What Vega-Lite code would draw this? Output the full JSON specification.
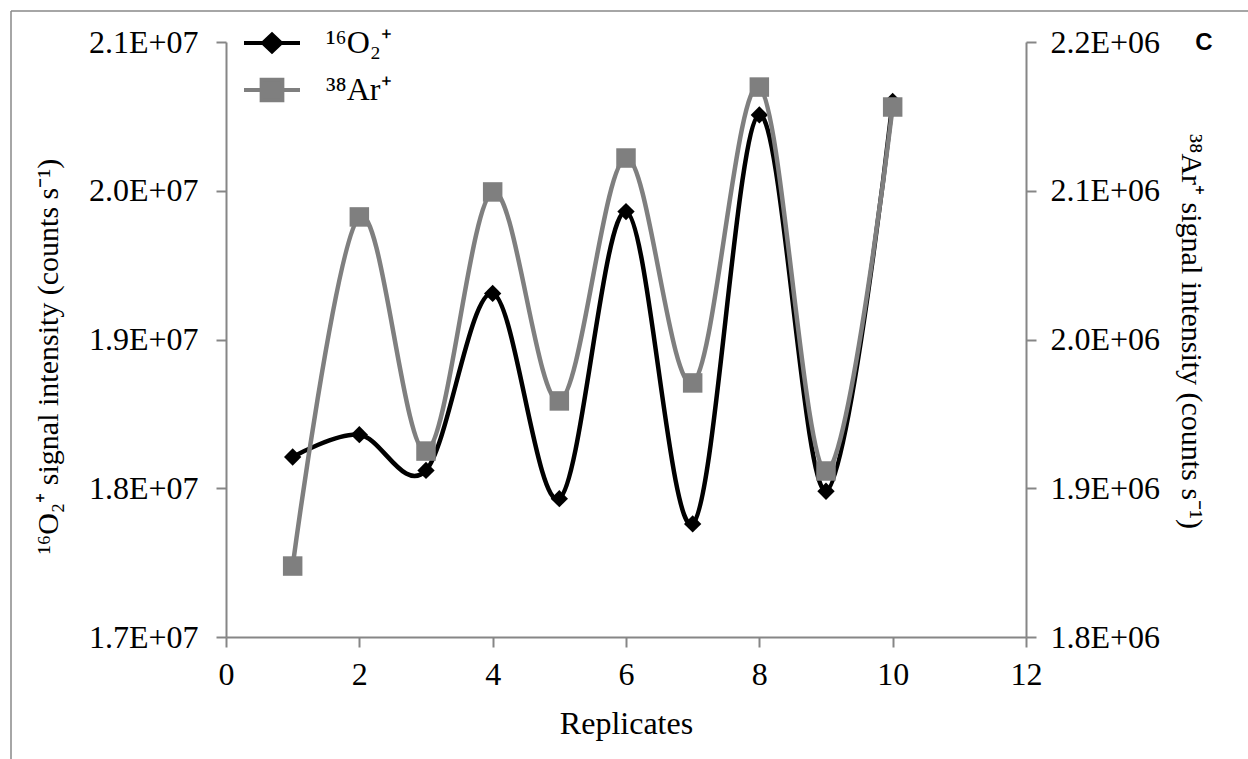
{
  "$schema": "https://vega.github.io/schema/vega-lite/v6.json",
  "width": 800,
  "height": 595,
  "autosize": {"type": "none"},
  "padding": {"left": 226, "top": 42, "right": 222, "bottom": 122},
  "background": "white",
  "config": {
    "view": {"stroke": null},
    "font": "Liberation Serif",
    "axis": {
      "grid": false,
      "domainColor": "#868686",
      "domainWidth": 2,
      "tickColor": "#868686",
      "tickWidth": 2,
      "tickSize": 10,
      "labelFont": "Liberation Serif",
      "labelFontSize": 32,
      "labelColor": "#000000",
      "labelFlush": false,
      "labelOverlap": false,
      "labelBound": false,
      "titleFont": "Liberation Serif",
      "titleFontSize": 32,
      "titleFontWeight": "normal",
      "titleColor": "#000000"
    }
  },
  "data": {
    "values": [
      {"rep": 1, "o2": 18210000, "ar": 1847700},
      {"rep": 2, "o2": 18360000, "ar": 2082400},
      {"rep": 3, "o2": 18120000, "ar": 1925000},
      {"rep": 4, "o2": 19310000, "ar": 2099200},
      {"rep": 5, "o2": 17930000, "ar": 1958700},
      {"rep": 6, "o2": 19860000, "ar": 2122000},
      {"rep": 7, "o2": 17760000, "ar": 1970800},
      {"rep": 8, "o2": 20510000, "ar": 2169700},
      {"rep": 9, "o2": 17980000, "ar": 1911600},
      {"rep": 10, "o2": 20600000, "ar": 2156300}
    ]
  },
  "layer": [
    {
      "layer": [
        {
          "mark": {"type": "line", "interpolate": "cardinal", "strokeWidth": 4.5,
                   "point": {"shape": "diamond", "size": 300, "filled": true}},
          "encoding": {
            "x": {
              "field": "rep",
              "type": "quantitative",
              "scale": {"domain": [0, 12], "nice": false, "zero": false},
              "axis": {
                "values": [0, 2, 4, 6, 8, 10, 12],
                "format": "d",
                "labelPadding": 12,
                "title": "Replicates",
                "titlePadding": 18
              }
            },
            "y": {
              "field": "o2",
              "type": "quantitative",
              "scale": {"domain": [17000000, 21000000], "nice": false, "zero": false},
              "axis": {
                "values": [17000000, 18000000, 19000000, 20000000, 21000000],
                "labelExpr": "format(datum.value/1e7,'.1f') + 'E+07'",
                "labelPadding": 18,
                "title": "¹⁶O₂⁺ signal intensity (counts s⁻¹)",
                "titleFontSize": 30,
                "titleY": 314,
                "titlePadding": 25
              }
            },
            "color": {
              "datum": "¹⁶O₂⁺",
              "scale": {"domain": ["¹⁶O₂⁺", "³⁸Ar⁺"], "range": ["#000000", "#7f7f7f"]},
              "legend": {
                "title": null,
                "orient": "none",
                "legendX": 16,
                "legendY": -29,
                "padding": 0,
                "symbolSize": 3136,
                "symbolStrokeWidth": 4,
                "labelFont": "Liberation Serif",
                "labelFontSize": 32,
                "labelColor": "#000000",
                "labelOffset": 24,
                "rowPadding": -7,
                "encode": {
                  "symbols": {
                    "update": {
                      "shape": {"signal": "datum.index === 0 ? 'M-1,0H1M-0.32,0L0,-0.3L0.32,0L0,0.3Z' : 'M-1,0H1M-0.37,-0.37H0.37V0.37H-0.37Z'"},
                      "fill": {"signal": "datum.index === 0 ? '#000000' : '#7f7f7f'"},
                      "stroke": {"signal": "datum.index === 0 ? '#000000' : '#7f7f7f'"},
                      "strokeWidth": {"value": 4},
                      "opacity": {"value": 1},
                      "fillOpacity": {"value": 1},
                      "strokeOpacity": {"value": 1}
                    }
                  }
                }
              }
            }
          }
        },
        {
          "data": {"values": [{"frame": "left"}]},
          "mark": {"type": "rule", "color": "#898989", "strokeWidth": 1.5, "clip": false},
          "encoding": {
            "x": {"datum": -3.225, "type": "quantitative"},
            "y": {"datum": 21208000, "type": "quantitative"},
            "y2": {"datum": 16000000}
          }
        },
        {
          "data": {"values": [{"frame": "top"}]},
          "mark": {"type": "rule", "color": "#898989", "strokeWidth": 1.5, "clip": false},
          "encoding": {
            "x": {"datum": -3.225, "type": "quantitative"},
            "x2": {"datum": 20},
            "y": {"datum": 21208000, "type": "quantitative"}
          }
        },
        {
          "data": {"values": [{"label": "C"}]},
          "mark": {"type": "text", "font": "Liberation Sans Narrow, Liberation Sans", "fontWeight": "bold",
                   "fontSize": 24, "color": "#000000", "align": "center", "baseline": "alphabetic", "clip": false},
          "encoding": {
            "x": {"datum": 14.67, "type": "quantitative"},
            "y": {"datum": 20946000, "type": "quantitative"},
            "text": {"field": "label"}
          }
        }
      ]
    },
    {
      "mark": {"type": "line", "interpolate": "cardinal", "strokeWidth": 4.5,
               "point": {"shape": "square", "size": 380, "filled": true}},
      "encoding": {
        "x": {"field": "rep", "type": "quantitative"},
        "y": {
          "field": "ar",
          "type": "quantitative",
          "scale": {"domain": [1800000, 2200000], "nice": false, "zero": false},
          "axis": {
            "orient": "right",
            "values": [1800000, 1900000, 2000000, 2100000, 2200000],
            "labelExpr": "format(datum.value/1e6,'.1f') + 'E+06'",
            "labelPadding": 14,
            "title": "³⁸Ar⁺ signal intensity (counts s⁻¹)",
            "titleFontSize": 30,
            "titleY": 289,
            "titlePadding": 16
          }
        },
        "color": {"datum": "³⁸Ar⁺"}
      }
    }
  ],
  "resolve": {"scale": {"y": "independent"}}
}
